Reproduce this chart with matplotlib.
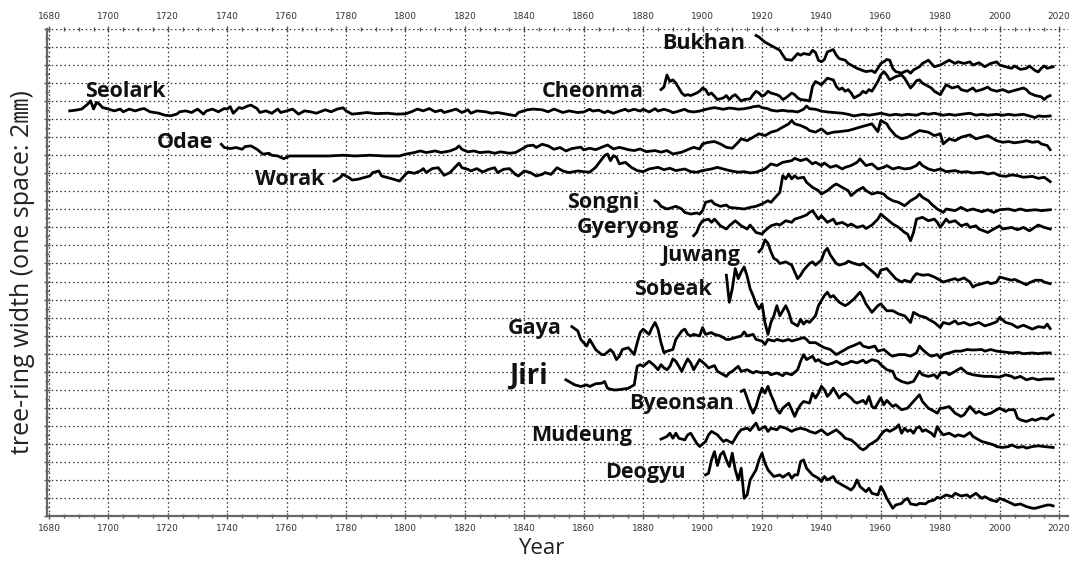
import matplotlib
matplotlib.use("Agg")
import matplotlib.pyplot as plt
from matplotlib.ticker import MultipleLocator

# tree-ring width series, stacked; y unit = one grid space (2 mm)
bukhan_yr = [1918, 1919, 1921, 1922, 1923, 1925, 1926, 1927, 1928, 1930, 1931, 1932, 1933, 1934, 1936, 1937,
             1938, 1939, 1940, 1941, 1942, 1944, 1945, 1946, 1948, 1949, 1950, 1951, 1952, 1953, 1954, 1955,
             1957, 1958, 1959, 1960, 1961, 1962, 1963, 1964, 1965, 1967, 1968, 1969, 1970, 1971, 1973, 1974,
             1976, 1977, 1978, 1980, 1981, 1983, 1985, 1986, 1988, 1990, 1991, 1993, 1995, 1996, 1997, 1999,
             2000, 2002, 2004, 2005, 2007, 2009, 2010, 2012, 2013, 2014, 2015, 2016, 2018]
bukhan_w = [26.64, 26.55, 26.27, 26.18, 26.09, 25.91, 25.82, 25.55, 25.31, 25.27, 25.45, 25.64, 25.55, 25.64,
            25.58, 25.82, 25.70, 25.27, 25.18, 25.31, 25.73, 25.86, 25.55, 25.36, 25.27, 25.09, 25.00, 24.91,
            24.82, 24.76, 24.69, 24.64, 24.69, 24.58, 24.82, 25.09, 25.18, 25.31, 25.27, 24.82, 24.64, 24.55,
            24.64, 24.69, 24.55, 24.73, 24.91, 25.09, 25.27, 25.09, 24.91, 25.00, 25.09, 25.27, 25.09, 25.18,
            25.09, 25.18, 25.00, 25.13, 24.91, 25.00, 25.09, 25.18, 25.00, 24.91, 24.82, 24.95, 24.76, 24.82,
            24.95, 24.69, 24.62, 24.82, 24.95, 24.82, 24.91]

cheonma_yr = [1886, 1887, 1888, 1889, 1890, 1891, 1892, 1893, 1894, 1895, 1896, 1898, 1899, 1900, 1901, 1902,
              1903, 1904, 1905, 1907, 1908, 1909, 1910, 1911, 1912, 1913, 1914, 1916, 1917, 1918, 1919, 1920,
              1921, 1922, 1923, 1925, 1926, 1927, 1928, 1929, 1930, 1931, 1932, 1933, 1935, 1936, 1937, 1938,
              1939, 1940, 1941, 1942, 1944, 1945, 1946, 1947, 1948, 1949, 1950, 1951, 1953, 1954, 1955, 1956,
              1957, 1958, 1959, 1960, 1961, 1962, 1963, 1964, 1965, 1967, 1968, 1969, 1970, 1971, 1972, 1973,
              1974, 1976, 1977, 1978, 1980, 1981, 1982, 1983, 1984, 1986, 1987, 1989, 1991, 1992, 1994, 1996,
              1997, 1999, 2001, 2003, 2004, 2006, 2008, 2009, 2010, 2012, 2014, 2015, 2016, 2017]
cheonma_w = [23.64, 23.78, 24.45, 24.09, 24.18, 24.00, 23.73, 23.45, 23.31, 23.36, 23.31, 23.45, 23.55, 23.73,
             23.64, 23.36, 23.45, 23.27, 23.09, 23.18, 23.31, 23.09, 23.27, 23.36, 23.18, 23.00, 23.09, 23.13,
             23.36, 23.55, 23.45, 23.27, 23.36, 23.55, 23.45, 23.36, 23.27, 23.09, 23.18, 23.31, 23.45, 23.36,
             23.18, 23.09, 23.05, 23.00, 23.82, 24.09, 24.00, 23.91, 24.09, 24.27, 24.18, 23.82, 23.64, 23.73,
             23.55, 23.64, 23.45, 23.18, 23.36, 23.55, 23.45, 23.64, 23.55, 23.82, 24.09, 24.45, 24.64, 24.45,
             24.18, 24.27, 24.36, 24.45, 24.27, 24.00, 23.73, 23.91, 24.13, 24.18, 24.00, 23.82, 23.73, 23.55,
             23.36, 23.64, 23.91, 23.82, 23.73, 23.82, 23.64, 23.55, 23.73, 23.55, 23.64, 23.78, 23.64, 23.55,
             23.64, 23.50, 23.55, 23.64, 23.73, 23.64, 23.45, 23.31, 23.24, 23.09, 23.24, 23.31]

seolark_yr = [1687, 1689, 1691, 1693, 1694, 1695, 1696, 1697, 1698, 1700, 1702, 1704, 1705, 1707, 1709, 1711,
              1712, 1714, 1717, 1719, 1721, 1723, 1724, 1726, 1728, 1730, 1732, 1733, 1735, 1737, 1739, 1740,
              1741, 1742, 1744, 1745, 1747, 1748, 1750, 1751, 1753, 1755, 1757, 1758, 1760, 1762, 1764, 1766,
              1768, 1770, 1772, 1773, 1775, 1777, 1779, 1780, 1782, 1785, 1787, 1790, 1794, 1797, 1800, 1802,
              1804, 1806, 1808, 1810, 1812, 1813, 1815, 1817, 1819, 1821, 1822, 1824, 1827, 1829, 1831, 1834,
              1837, 1838, 1841, 1843, 1846, 1848, 1850, 1853, 1855, 1858, 1860, 1862, 1863, 1865, 1867, 1868,
              1870, 1872, 1874, 1875, 1877, 1879, 1880, 1882, 1884, 1885, 1887, 1889, 1890, 1892, 1894, 1895,
              1897, 1899, 1900, 1902, 1904, 1906, 1907, 1909, 1911, 1912, 1914, 1916, 1917, 1919, 1920, 1922,
              1923, 1925, 1927, 1929, 1930, 1932, 1934, 1935, 1936, 1938, 1940, 1942, 1945, 1947, 1949, 1951,
              1954, 1956, 1958, 1960, 1963, 1965, 1967, 1969, 1972, 1974, 1976, 1978, 1981, 1983, 1985, 1987,
              1990, 1992, 1994, 1996, 1999, 2001, 2003, 2005, 2008, 2010, 2012, 2013, 2015, 2017]
seolark_w = [22.46, 22.50, 22.56, 22.83, 23.02, 22.56, 22.93, 22.83, 22.65, 22.56, 22.46, 22.56, 22.41, 22.56,
             22.46, 22.56, 22.59, 22.41, 22.33, 22.22, 22.19, 22.28, 22.41, 22.46, 22.37, 22.56, 22.28, 22.46,
             22.56, 22.41, 22.59, 22.56, 22.70, 22.33, 22.65, 22.59, 22.74, 22.78, 22.59, 22.37, 22.46, 22.33,
             22.56, 22.37, 22.46, 22.56, 22.28, 22.46, 22.41, 22.33, 22.46, 22.52, 22.41, 22.56, 22.63, 22.46,
             22.28, 22.33, 22.37, 22.31, 22.33, 22.28, 22.30, 22.41, 22.56, 22.46, 22.59, 22.41, 22.50, 22.37,
             22.46, 22.56, 22.37, 22.52, 22.33, 22.46, 22.41, 22.33, 22.37, 22.28, 22.19, 22.37, 22.52, 22.56,
             22.52, 22.41, 22.56, 22.37, 22.46, 22.37, 22.40, 22.55, 22.45, 22.50, 22.36, 22.45, 22.33, 22.45,
             22.55, 22.45, 22.55, 22.45, 22.55, 22.40, 22.58, 22.45, 22.55, 22.45, 22.36, 22.45, 22.55, 22.45,
             22.40, 22.45, 22.50, 22.58, 22.64, 22.58, 22.55, 22.62, 22.58, 22.55, 22.58, 22.64, 22.69, 22.73,
             22.64, 22.58, 22.50, 22.45, 22.49, 22.44, 22.45, 22.40, 22.55, 22.73, 22.58, 22.55, 22.45, 22.40,
             22.36, 22.33, 22.27, 22.18, 22.27, 22.22, 22.27, 22.33, 22.22, 22.27, 22.22, 22.27, 22.22, 22.33,
             22.27, 22.33, 22.22, 22.27, 22.22, 22.27, 22.33, 22.22, 22.27, 22.22, 22.27, 22.22, 22.27, 22.22,
             22.27, 22.18, 22.09, 22.18, 22.15, 22.18]

odae_yr = [1738, 1739, 1741, 1743, 1745, 1746, 1748, 1750, 1752, 1754, 1755, 1757, 1759, 1761, 1764, 1769, 1774,
           1779, 1783, 1788, 1793, 1798, 1800, 1803, 1805, 1807, 1810, 1812, 1815, 1817, 1818, 1819, 1821, 1823,
           1825, 1828, 1830, 1832, 1835, 1837, 1839, 1841, 1843, 1844, 1846, 1848, 1850, 1852, 1854, 1856, 1859,
           1860, 1862, 1864, 1868, 1870, 1872, 1875, 1877, 1879, 1881, 1884, 1886, 1888, 1890, 1893, 1895, 1897,
           1899, 1900, 1902, 1904, 1906, 1908, 1910, 1912, 1913, 1915, 1917, 1919, 1921, 1923, 1925, 1927, 1929,
           1930, 1931, 1933, 1935, 1936, 1938, 1940, 1942, 1944, 1946, 1949, 1951, 1953, 1955, 1957, 1959, 1960,
           1962, 1963, 1965, 1967, 1969, 1971, 1973, 1976, 1978, 1980, 1981, 1983, 1985, 1987, 1990, 1992, 1994,
           1996, 1999, 2001, 2003, 2005, 2008, 2009, 2011, 2013, 2014, 2016, 2017]
odae_w = [20.61, 20.43, 20.37, 20.43, 20.33, 20.48, 20.52, 20.33, 20.06, 20.11, 20.00, 19.96, 19.81, 19.96, 19.96,
          19.96, 19.96, 20.00, 19.96, 20.00, 19.96, 19.96, 20.06, 20.15, 20.24, 20.15, 20.24, 20.15, 20.24, 20.37,
          20.52, 20.33, 20.19, 20.24, 20.15, 20.19, 20.11, 20.19, 20.11, 20.15, 20.33, 20.52, 20.56, 20.43, 20.61,
          20.52, 20.33, 20.43, 20.24, 20.37, 20.45, 20.30, 20.39, 20.31, 20.57, 20.35, 20.44, 20.31, 20.26, 20.35,
          20.20, 20.26, 20.17, 20.26, 20.07, 20.17, 20.31, 20.44, 20.35, 20.63, 20.72, 20.76, 20.63, 20.44, 20.39,
          20.72, 20.91, 20.81, 21.00, 21.19, 21.09, 21.28, 21.37, 21.56, 21.74, 21.93, 21.74, 21.65, 21.50, 21.37,
          21.28, 21.46, 21.19, 21.28, 21.31, 21.37, 21.46, 21.56, 21.65, 21.74, 21.31, 21.93, 21.74, 21.46, 21.09,
          20.91, 21.00, 21.19, 21.37, 21.28, 21.09, 21.19, 20.63, 20.91, 20.81, 21.00, 21.13, 20.91, 21.00, 21.09,
          20.81, 20.72, 20.76, 20.69, 20.76, 20.81, 20.72, 20.76, 20.63, 20.54, 20.31]

worak_yr = [1776, 1778, 1779, 1781, 1782, 1784, 1786, 1788, 1789, 1791, 1792, 1794, 1796, 1798, 1800, 1801, 1803,
            1805, 1806, 1807, 1809, 1811, 1813, 1815, 1816, 1818, 1819, 1821, 1822, 1824, 1826, 1828, 1830, 1831,
            1833, 1835, 1837, 1838, 1840, 1842, 1844, 1846, 1847, 1849, 1851, 1853, 1855, 1858, 1860, 1862, 1864,
            1867, 1868, 1869, 1870, 1871, 1872, 1874, 1876, 1878, 1880, 1882, 1885, 1887, 1889, 1891, 1894, 1896,
            1898, 1900, 1903, 1905, 1907, 1909, 1912, 1914, 1916, 1918, 1921, 1923, 1925, 1927, 1930, 1931, 1933,
            1935, 1937, 1938, 1940, 1941, 1943, 1945, 1947, 1948, 1950, 1952, 1953, 1954, 1955, 1957, 1959, 1961,
            1962, 1964, 1966, 1968, 1970, 1972, 1973, 1974, 1976, 1978, 1980, 1982, 1985, 1987, 1989, 1991, 1994,
            1996, 1998, 2000, 2002, 2004, 2006, 2008, 2011, 2013, 2015, 2017]
worak_w = [18.57, 18.76, 18.94, 18.76, 18.63, 18.67, 18.76, 18.85, 19.04, 19.13, 18.85, 18.76, 18.67, 18.57,
           18.94, 19.07, 19.00, 19.13, 19.26, 19.04, 19.26, 19.31, 18.89, 19.04, 19.22, 19.56, 19.31, 19.22,
           19.13, 19.26, 19.07, 19.22, 19.31, 19.04, 19.22, 19.26, 18.94, 18.85, 19.13, 19.04, 18.85, 18.94,
           19.04, 18.94, 19.31, 19.13, 19.04, 19.13, 19.09, 19.06, 19.33, 19.98, 20.07, 19.70, 19.98, 19.89,
           19.52, 19.61, 19.33, 19.15, 19.09, 19.24, 19.33, 19.20, 19.28, 19.15, 19.24, 19.09, 19.06, 19.15,
           19.24, 19.33, 19.24, 19.15, 19.06, 19.09, 19.02, 19.06, 19.24, 19.52, 19.43, 19.61, 19.70, 19.83,
           19.70, 19.80, 19.52, 19.61, 19.43, 19.57, 19.33, 19.43, 19.24, 19.33, 19.43, 19.61, 19.80, 19.61,
           19.43, 19.52, 19.24, 19.33, 19.43, 19.24, 19.33, 19.24, 19.28, 19.43, 19.61, 19.43, 19.24, 19.15,
           19.24, 19.09, 19.15, 19.06, 19.09, 19.02, 19.06, 18.96, 19.02, 18.87, 18.83, 18.91, 18.87, 18.78,
           18.83, 18.72, 18.78, 18.54]

songni_yr = [1884, 1885, 1886, 1888, 1889, 1891, 1893, 1894, 1896, 1898, 1899, 1900, 1901, 1903, 1904, 1906,
             1908, 1909, 1912, 1914, 1916, 1918, 1920, 1922, 1923, 1925, 1926, 1927, 1928, 1929, 1930, 1931,
             1932, 1934, 1935, 1937, 1939, 1940, 1942, 1944, 1945, 1947, 1949, 1950, 1952, 1954, 1955, 1957,
             1959, 1961, 1962, 1964, 1966, 1968, 1970, 1972, 1973, 1974, 1976, 1977, 1979, 1981, 1982, 1985,
             1987, 1989, 1991, 1994, 1996, 1998, 2000, 2003, 2005, 2007, 2009, 2012, 2014, 2017]
songni_w = [17.48, 17.39, 17.17, 17.02, 17.06, 17.17, 17.02, 16.83, 16.74, 16.80, 16.74, 16.93, 17.39, 17.48,
            17.30, 17.17, 17.24, 17.11, 17.06, 17.02, 17.11, 17.17, 17.30, 17.48, 17.39, 17.76, 17.94, 18.87,
            18.69, 18.96, 18.69, 18.87, 18.72, 18.78, 18.50, 18.22, 18.04, 17.85, 18.04, 18.31, 18.41, 18.22,
            18.04, 17.76, 18.04, 18.22, 18.04, 17.85, 17.94, 17.85, 17.67, 17.48, 17.39, 17.20, 17.48, 17.67,
            17.85, 17.67, 17.48, 17.30, 17.02, 16.83, 17.02, 16.93, 17.11, 16.93, 17.02, 16.87, 16.98, 16.83,
            16.98, 17.02, 16.93, 17.02, 16.93, 16.98, 16.93, 16.98]

gyeryong_yr = [1897, 1898, 1899, 1900, 1902, 1903, 1904, 1906, 1908, 1909, 1911, 1913, 1915, 1916, 1918, 1920,
               1921, 1923, 1925, 1926, 1928, 1930, 1931, 1933, 1935, 1936, 1937, 1939, 1940, 1942, 1944, 1945,
               1947, 1949, 1950, 1952, 1954, 1955, 1957, 1959, 1960, 1962, 1964, 1966, 1968, 1969, 1970, 1971,
               1972, 1974, 1976, 1978, 1979, 1980, 1982, 1983, 1985, 1987, 1989, 1990, 1992, 1993, 1996, 1998,
               2000, 2001, 2004, 2006, 2008, 2010, 2013, 2015, 2017]
gyeryong_w = [15.54, 15.72, 16.13, 16.37, 16.46, 16.28, 16.46, 16.09, 15.91, 16.09, 16.37, 16.09, 15.91, 16.13,
              15.72, 15.63, 15.81, 16.09, 16.19, 16.13, 16.37, 16.28, 16.46, 16.56, 16.69, 16.83, 16.93, 16.46,
              16.65, 16.28, 16.46, 16.19, 16.28, 16.09, 16.19, 16.00, 16.09, 15.94, 16.13, 16.46, 16.74, 16.46,
              16.19, 16.00, 15.72, 15.63, 15.26, 15.72, 16.46, 16.56, 16.37, 16.46, 16.28, 16.00, 16.46, 16.28,
              16.37, 16.09, 16.19, 16.00, 16.09, 15.91, 15.72, 15.91, 16.09, 15.91, 16.00, 15.87, 16.00, 15.81,
              16.13, 16.00, 15.91]

juwang_yr = [1919, 1920, 1921, 1922, 1923, 1924, 1925, 1926, 1928, 1930, 1931, 1932, 1933, 1934, 1936, 1937,
             1938, 1940, 1941, 1942, 1943, 1945, 1946, 1948, 1949, 1951, 1953, 1954, 1956, 1958, 1959, 1960,
             1962, 1963, 1965, 1967, 1968, 1970, 1971, 1972, 1974, 1976, 1978, 1980, 1981, 1983, 1985, 1986,
             1988, 1990, 1991, 1992, 1994, 1996, 1997, 1999, 2000, 2002, 2004, 2005, 2007, 2009, 2010, 2012,
             2014, 2015, 2017]
juwang_w = [14.65, 14.84, 15.31, 15.12, 14.65, 14.28, 14.19, 14.00, 14.09, 13.91, 13.53, 13.16, 13.35, 13.63,
            14.00, 14.09, 13.91, 14.19, 14.65, 14.84, 14.47, 14.00, 13.91, 14.00, 14.13, 14.00, 13.91, 14.00,
            13.72, 13.44, 13.25, 13.63, 13.72, 13.53, 13.16, 12.97, 13.07, 12.97, 13.25, 13.44, 13.35, 13.38,
            13.25, 13.07, 12.97, 13.07, 13.16, 13.07, 13.20, 12.97, 12.69, 12.79, 12.88, 12.97, 12.88, 12.97,
            13.25, 13.16, 13.07, 13.12, 12.97, 12.82, 12.93, 13.07, 13.07, 12.97, 12.88]

sobeak_yr = [1908, 1909, 1910, 1911, 1912, 1913, 1914, 1915, 1916, 1917, 1918, 1919, 1920, 1921, 1922, 1923,
             1924, 1925, 1926, 1927, 1928, 1929, 1930, 1932, 1933, 1934, 1935, 1936, 1938, 1939, 1940, 1941,
             1942, 1943, 1944, 1946, 1948, 1949, 1951, 1953, 1954, 1955, 1957, 1959, 1960, 1962, 1964, 1966,
             1968, 1970, 1971, 1973, 1975, 1976, 1978, 1980, 1981, 1983, 1985, 1986, 1988, 1990, 1993, 1995,
             1997, 1999, 2000, 2002, 2004, 2006, 2008, 2011, 2013, 2015, 2016, 2017]
sobeak_w = [13.35, 11.85, 12.60, 13.72, 13.16, 13.53, 13.81, 13.30, 12.60, 12.22, 11.76, 11.48, 11.76, 10.73,
            10.07, 10.73, 11.10, 11.66, 11.10, 11.38, 11.66, 11.29, 10.73, 10.54, 10.91, 10.64, 10.82, 10.73,
            11.10, 11.66, 11.94, 12.22, 12.41, 12.13, 12.22, 11.85, 11.66, 11.76, 12.04, 12.41, 12.13, 11.76,
            11.29, 11.66, 11.76, 11.38, 11.38, 11.20, 11.10, 10.73, 11.29, 11.10, 11.01, 10.91, 10.73, 10.45,
            10.73, 10.64, 10.82, 10.64, 10.73, 10.58, 10.73, 10.54, 10.64, 10.77, 11.01, 10.73, 10.64, 10.45,
            10.58, 10.36, 10.50, 10.45, 10.64, 10.39]

gaya_yr = [1856, 1858, 1859, 1861, 1862, 1863, 1864, 1866, 1867, 1869, 1870, 1871, 1872, 1873, 1875, 1876, 1877,
           1878, 1879, 1880, 1882, 1883, 1884, 1885, 1886, 1887, 1888, 1890, 1891, 1893, 1894, 1895, 1896, 1897,
           1899, 1900, 1901, 1903, 1904, 1906, 1908, 1909, 1911, 1913, 1914, 1915, 1917, 1918, 1920, 1921, 1922,
           1924, 1925, 1927, 1929, 1930, 1932, 1934, 1935, 1936, 1938, 1940, 1941, 1943, 1945, 1946, 1948, 1949,
           1951, 1953, 1954, 1956, 1958, 1959, 1961, 1963, 1964, 1966, 1968, 1970, 1972, 1973, 1974, 1976, 1977,
           1979, 1980, 1981, 1983, 1985, 1987, 1989, 1991, 1994, 1995, 1997, 1999, 2002, 2004, 2006, 2008, 2011,
           2013, 2015, 2017]
gaya_w = [10.50, 10.26, 9.79, 9.42, 9.79, 9.51, 9.23, 8.95, 8.95, 9.23, 9.04, 8.67, 8.86, 9.23, 9.33, 9.14, 8.95,
          9.61, 10.17, 10.36, 10.07, 10.45, 10.73, 10.36, 9.61, 9.05, 9.14, 9.23, 9.79, 10.26, 10.36, 10.07, 9.98,
          10.07, 9.98, 10.45, 10.07, 10.17, 10.07, 9.98, 9.79, 9.79, 9.89, 9.98, 10.21, 9.98, 10.07, 9.79, 9.70,
          9.51, 9.79, 9.70, 9.79, 9.70, 9.79, 9.70, 9.79, 9.89, 9.79, 9.61, 9.61, 9.42, 9.33, 9.23, 8.95, 9.04,
          9.23, 9.33, 9.46, 9.61, 9.42, 9.33, 9.42, 9.14, 9.23, 8.95, 8.86, 8.95, 8.95, 8.86, 9.04, 9.42, 9.23,
          8.95, 8.86, 8.95, 8.77, 8.95, 9.04, 9.14, 9.14, 9.23, 9.20, 9.23, 9.14, 9.23, 9.14, 9.08, 9.04, 9.08,
          9.00, 9.04, 9.00, 9.04, 9.04]

jiri_yr = [1854, 1856, 1857, 1859, 1861, 1862, 1864, 1866, 1867, 1868, 1870, 1871, 1873, 1875, 1876, 1877, 1878,
           1879, 1880, 1882, 1883, 1884, 1885, 1886, 1887, 1888, 1889, 1890, 1891, 1893, 1894, 1895, 1896, 1897,
           1898, 1899, 1901, 1902, 1904, 1905, 1906, 1908, 1909, 1910, 1912, 1913, 1915, 1917, 1918, 1920, 1922,
           1923, 1925, 1927, 1928, 1930, 1932, 1933, 1934, 1935, 1937, 1938, 1939, 1940, 1942, 1944, 1945, 1947,
           1949, 1950, 1952, 1954, 1955, 1957, 1959, 1960, 1962, 1964, 1965, 1967, 1969, 1971, 1972, 1973, 1974,
           1976, 1978, 1979, 1980, 1982, 1983, 1985, 1987, 1989, 1991, 1993, 1995, 1997, 2000, 2002, 2004, 2005,
           2007, 2009, 2011, 2013, 2015, 2018]
jiri_w = [7.55, 7.36, 7.27, 7.18, 7.27, 7.18, 7.33, 7.36, 7.46, 7.08, 6.99, 6.99, 7.03, 7.08, 7.18, 7.27, 8.30,
          8.39, 8.30, 8.58, 8.45, 8.30, 8.11, 8.39, 8.21, 8.11, 8.30, 8.71, 8.58, 8.02, 8.39, 8.71, 8.49, 8.11,
          8.39, 8.67, 8.39, 8.21, 8.34, 8.02, 7.93, 7.74, 7.93, 8.02, 8.30, 8.02, 8.11, 7.93, 8.02, 7.93, 7.97,
          7.83, 7.93, 7.78, 7.93, 7.83, 8.11, 8.58, 8.95, 8.67, 8.86, 8.58, 8.67, 8.52, 8.39, 8.49, 8.58, 8.39,
          8.49, 8.58, 8.49, 8.64, 8.49, 8.67, 8.58, 8.39, 8.11, 8.02, 7.64, 7.46, 7.36, 7.46, 7.74, 8.02, 7.83,
          7.74, 7.83, 7.64, 7.93, 7.97, 7.83, 8.02, 8.21, 7.93, 7.83, 7.78, 7.74, 7.74, 7.70, 7.83, 7.74, 7.64,
          7.74, 7.55, 7.64, 7.55, 7.60, 7.60]

byeonsan_yr = [1913, 1914, 1915, 1916, 1917, 1918, 1919, 1920, 1921, 1922, 1923, 1924, 1925, 1926, 1927, 1929,
               1930, 1931, 1932, 1933, 1934, 1936, 1937, 1938, 1939, 1940, 1941, 1942, 1943, 1944, 1946, 1947,
               1948, 1950, 1951, 1952, 1954, 1955, 1956, 1957, 1958, 1960, 1961, 1962, 1964, 1965, 1967, 1969,
               1970, 1972, 1973, 1974, 1976, 1978, 1979, 1980, 1981, 1983, 1985, 1987, 1988, 1990, 1992, 1993,
               1995, 1997, 1998, 2000, 2002, 2003, 2005, 2006, 2007, 2009, 2011, 2012, 2014, 2016, 2017, 2018]
byeonsan_w = [6.91, 7.00, 6.54, 6.07, 5.70, 6.07, 6.63, 7.09, 6.81, 7.19, 6.72, 6.35, 5.89, 5.70, 5.98, 6.26,
              5.89, 5.52, 5.89, 6.17, 6.35, 6.26, 6.81, 6.54, 6.81, 7.19, 7.00, 6.63, 6.81, 7.09, 6.54, 6.72,
              6.81, 6.54, 6.35, 6.26, 6.41, 6.22, 6.63, 6.07, 5.98, 6.54, 6.17, 6.41, 6.07, 6.17, 5.89, 5.98,
              6.17, 6.54, 6.72, 6.35, 5.98, 5.80, 5.70, 5.98, 5.98, 6.07, 5.70, 5.52, 5.61, 6.07, 5.70, 5.80,
              5.61, 5.70, 5.80, 5.98, 5.80, 5.89, 5.89, 5.43, 5.33, 5.24, 5.37, 5.30, 5.43, 5.37, 5.52, 5.61]

mudeung_yr = [1886, 1888, 1889, 1890, 1891, 1892, 1894, 1895, 1896, 1897, 1898, 1899, 1901, 1902, 1903, 1905,
              1906, 1907, 1908, 1910, 1911, 1912, 1913, 1915, 1916, 1917, 1918, 1919, 1921, 1922, 1923, 1925,
              1926, 1928, 1930, 1931, 1933, 1935, 1936, 1938, 1940, 1942, 1943, 1945, 1947, 1948, 1950, 1952,
              1953, 1954, 1955, 1956, 1958, 1959, 1960, 1961, 1962, 1963, 1965, 1966, 1967, 1968, 1969, 1970,
              1971, 1972, 1973, 1974, 1975, 1977, 1978, 1979, 1980, 1981, 1983, 1985, 1986, 1988, 1990, 1991,
              1993, 1994, 1996, 1998, 1999, 2001, 2003, 2004, 2006, 2008, 2009, 2011, 2013, 2015, 2018]
mudeung_w = [4.26, 4.41, 4.59, 4.31, 4.59, 4.31, 4.22, 4.50, 4.59, 4.31, 4.04, 3.85, 4.13, 4.50, 4.69, 4.50,
             4.31, 4.13, 4.22, 4.04, 4.31, 4.59, 4.78, 4.87, 4.74, 4.96, 5.15, 4.78, 4.96, 4.69, 4.87, 4.78,
             4.96, 4.87, 4.69, 4.78, 4.87, 4.78, 4.69, 4.59, 4.78, 4.50, 4.59, 4.78, 4.50, 4.31, 4.22, 3.94,
             3.76, 3.67, 3.76, 3.94, 4.13, 4.26, 4.50, 4.69, 4.78, 4.69, 4.87, 5.06, 4.59, 4.87, 4.69, 4.78,
             4.59, 4.87, 4.96, 4.69, 4.78, 4.59, 4.41, 4.96, 4.69, 4.50, 4.59, 4.41, 4.50, 4.41, 4.63, 4.41,
             4.22, 4.13, 4.04, 3.94, 3.85, 3.80, 3.85, 3.94, 3.80, 3.85, 3.76, 3.85, 3.89, 3.85, 3.80]

deogyu_yr = [1901, 1902, 1903, 1904, 1905, 1906, 1907, 1908, 1909, 1910, 1911, 1912, 1913, 1914, 1915, 1916,
             1917, 1918, 1919, 1920, 1921, 1922, 1923, 1924, 1926, 1927, 1929, 1930, 1931, 1932, 1933, 1934,
             1935, 1936, 1937, 1939, 1940, 1941, 1942, 1944, 1945, 1947, 1948, 1950, 1951, 1952, 1953, 1955,
             1956, 1957, 1959, 1960, 1961, 1962, 1964, 1965, 1967, 1968, 1969, 1970, 1972, 1973, 1975, 1976,
             1978, 1979, 1980, 1982, 1984, 1985, 1987, 1989, 1990, 1992, 1994, 1995, 1997, 1999, 2000, 2002,
             2004, 2005, 2007, 2009, 2011, 2012, 2014, 2016, 2017, 2018]
deogyu_w = [2.28, 2.37, 3.11, 3.57, 2.80, 3.39, 3.57, 3.11, 2.74, 3.48, 2.56, 2.00, 2.65, 0.98, 1.17, 2.00,
            2.28, 2.56, 3.11, 3.48, 2.93, 2.56, 2.37, 2.19, 2.28, 2.15, 2.37, 2.09, 2.28, 2.28, 3.02, 3.11,
            2.65, 2.46, 2.28, 2.09, 1.91, 2.19, 2.00, 2.19, 1.91, 1.72, 1.63, 1.44, 1.63, 2.00, 1.63, 1.35,
            1.54, 1.26, 1.17, 1.63, 1.35, 0.98, 0.43, 0.61, 0.70, 0.89, 0.98, 0.67, 0.61, 0.70, 0.67, 0.80,
            0.89, 1.04, 0.98, 1.17, 1.07, 1.26, 1.11, 1.17, 1.04, 1.26, 0.98, 1.07, 0.89, 0.80, 0.98, 0.85,
            0.70, 0.61, 0.67, 0.52, 0.43, 0.43, 0.52, 0.61, 0.61, 0.56]

site_names = ["Bukhan", "Cheonma", "Seolark", "Odae", "Worak", "Songni", "Gyeryong", "Juwang",
              "Sobeak", "Gaya", "Jiri", "Byeonsan", "Mudeung", "Deogyu"]
site_years = [bukhan_yr, cheonma_yr, seolark_yr, odae_yr, worak_yr, songni_yr, gyeryong_yr, juwang_yr,
              sobeak_yr, gaya_yr, jiri_yr, byeonsan_yr, mudeung_yr, deogyu_yr]
site_widths = [bukhan_w, cheonma_w, seolark_w, odae_w, worak_w, songni_w, gyeryong_w, juwang_w,
               sobeak_w, gaya_w, jiri_w, byeonsan_w, mudeung_w, deogyu_w]

# where each site name is written (left edge year, height in spaces)
label_x = [1886.5, 1846.0, 1692.0, 1716.2, 1749.3, 1854.3, 1857.7, 1886.2, 1877.0, 1834.4, 1835.0, 1875.4, 1842.3, 1867.1]
label_y = [26.2, 23.55, 23.55, 20.7, 18.67, 17.4, 16.0, 14.44, 12.56, 10.39, 7.78, 6.22, 4.44, 2.39]

fig = plt.figure(figsize=(10.72, 5.64), dpi=100)
ax = fig.add_axes([47 / 1072, 48 / 564, 1021 / 1072, 487 / 564])

for yr, w in zip(site_years, site_widths):
    ax.plot(yr, w, color="black", lw=2.0, solid_joinstyle="round")

for name, lx, ly in zip(site_names, label_x, label_y):
    size = 20 if name == "Jiri" else 15.5
    ax.text(lx, ly, name, ha="left", va="center", fontsize=size, fontweight="bold",
            family=["Open Sans", "DejaVu Sans"], color="#111111")

ax.set_xlim(1679.33, 2023.0)
ax.set_ylim(0, 27)
ax.xaxis.set_major_locator(MultipleLocator(20))
ax.xaxis.set_minor_locator(MultipleLocator(5))
ax.yaxis.set_major_locator(MultipleLocator(1))
ax.yaxis.set_minor_locator(MultipleLocator(0.5))
ax.grid(True, which="major", color="#333333", linestyle=(0, (1.2, 2.2)), lw=0.9)

ax.tick_params(axis="x", which="both", top=True, labeltop=True, bottom=True, labelbottom=True,
               direction="inout", color="#555555", labelsize=6.5, labelcolor="#333333", width=1.0)
ax.tick_params(axis="x", which="major", length=5, pad=3)
ax.tick_params(axis="x", which="minor", length=3)
ax.tick_params(axis="y", which="both", left=True, labelleft=False, direction="inout",
               color="#555555", width=1.0)
ax.tick_params(axis="y", which="major", length=5)
ax.tick_params(axis="y", which="minor", length=3)

for side in ["left", "bottom"]:
    ax.spines[side].set_color("#666666")
    ax.spines[side].set_linewidth(1.6)
for side in ["top", "right"]:
    ax.spines[side].set_visible(False)

ax.set_xlabel("Year", fontsize=16, family=["Open Sans", "DejaVu Sans"], color="#222222")
ax.xaxis.set_label_coords(0.484, -0.045)
ax.set_ylabel("tree-ring width (one space: 2\u339c)", fontsize=18,
              family=["Open Sans", "Noto Sans CJK KR", "DejaVu Sans"], color="#222222", labelpad=6)

fig.savefig("out.png", dpi=100)
